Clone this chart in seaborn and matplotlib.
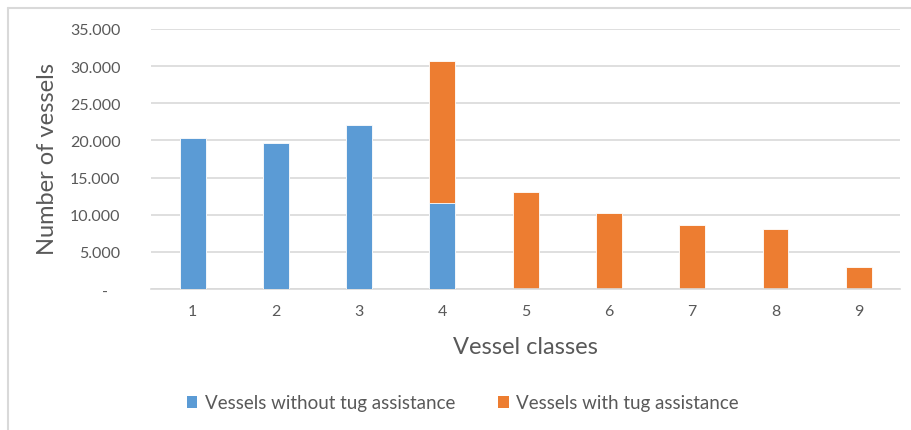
import matplotlib
matplotlib.use("Agg")
import matplotlib.pyplot as plt
import seaborn as sns
import pandas as pd
from matplotlib.patches import Patch
from matplotlib.lines import Line2D
from matplotlib.ticker import FuncFormatter

# ---- data ----
classes = ["1", "2", "3", "4", "5", "6", "7", "8", "9"]
without_tug = [20300, 19650, 22050, 11600, 0, 0, 0, 0, 0]
with_tug = [0, 0, 0, 19100, 13050, 10230, 8610, 8030, 2920]
series_names = ["Vessels without tug assistance", "Vessels with tug assistance"]
y_ticks = [0, 5000, 10000, 15000, 20000, 25000, 30000, 35000]

BLUE = "#5B9BD5"
ORANGE = "#ED7D31"
TEXT = "#595959"
GRID = "#D9D9D9"

sns.set_theme(style="white")
plt.rcParams["font.family"] = ["Lato", "DejaVu Sans"]

df = pd.DataFrame({
    "cls": classes,
    "without": without_tug,
    "with": with_tug,
})
df["total"] = df["without"] + df["with"]

fig = plt.figure(figsize=(9.11, 4.31), dpi=100)
ax = fig.add_axes([151 / 911, 141 / 431, (900.3 - 151) / 911, 260 / 431])

# stacked: total (orange) first, then the blue bottom segment over it
sns.barplot(data=df, x="cls", y="total", color=ORANGE, width=0.31,
            saturation=1, ax=ax, edgecolor="white", linewidth=0.6, zorder=2)
sns.barplot(data=df, x="cls", y="without", color=BLUE, width=0.31,
            saturation=1, ax=ax, edgecolor="white", linewidth=0.6, zorder=3)

ax.set_xlim(-0.5, 8.5)
ax.set_ylim(0, 35000)
ax.set_yticks(y_ticks)
ax.yaxis.set_major_formatter(FuncFormatter(
    lambda v, p: "-   " if v == 0 else f"{v:,.0f}".replace(",", ".")))
ax.grid(axis="y", color=GRID, linewidth=1.2, zorder=0)
ax.set_axisbelow(True)
for s in ["top", "right", "left"]:
    ax.spines[s].set_visible(False)
ax.spines["bottom"].set_color(GRID)
ax.spines["bottom"].set_linewidth(1.2)
ax.tick_params(axis="both", length=0, labelsize=11.5, labelcolor=TEXT)
ax.tick_params(axis="y", pad=22)
ax.tick_params(axis="x", pad=11)

ax.set_xlabel("Vessel classes", fontsize=17, color=TEXT, va="center")
ax.set_ylabel("Number of vessels", fontsize=17, color=TEXT, va="center")
ax.xaxis.set_label_coords((525 - 151) / 749.3, (290 - 347) / 260)
ax.yaxis.set_label_coords((48 - 151) / 749.3, (290 - 159) / 260)

handles = [Patch(facecolor=BLUE, edgecolor="none"),
           Patch(facecolor=ORANGE, edgecolor="none")]
fig.legend(handles, series_names, loc="center", ncol=2,
           bbox_to_anchor=(463 / 911, 1 - 404 / 431), frameon=False,
           fontsize=13.5, labelcolor=TEXT, handlelength=0.55, handleheight=0.55,
           handletextpad=0.4, columnspacing=2.3)

# chart-area border (top and left visible)
fig.add_artist(Line2D([7.5 / 911, 1.0], [1 - 9 / 431, 1 - 9 / 431],
                      transform=fig.transFigure, color=GRID, linewidth=1.5))
fig.add_artist(Line2D([7.5 / 911, 7.5 / 911], [0, 1 - 9 / 431],
                      transform=fig.transFigure, color=GRID, linewidth=1.5))

fig.savefig("out.png", dpi=100)
